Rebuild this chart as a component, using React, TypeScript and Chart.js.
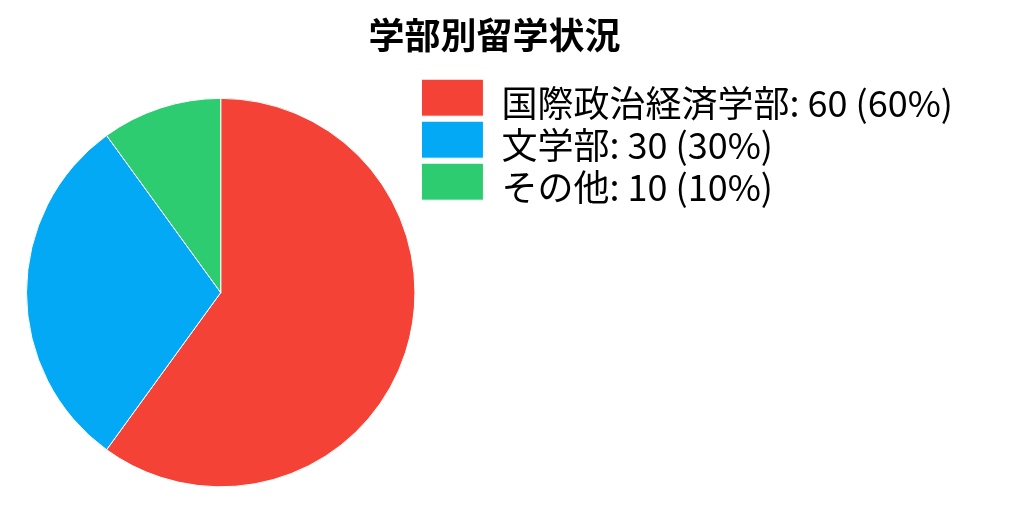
import React, { useEffect, useRef } from "react";
import { Chart, registerables } from "chart.js";

Chart.register(...registerables);

const chartTitle = "学部別留学状況";
const categories = ["国際政治経済学部", "文学部", "その他"];
const values = [60, 30, 10];
const colors = ["#F44336", "#03A9F4", "#2ECC71"];

const FONT = "'Noto Sans CJK JP', 'Noto Sans', sans-serif";

// Chart.js caps a side legend at half the available width; let it keep its natural width.
const naturalLegendWidth = {
  id: "naturalLegendWidth",
  beforeLayout(chart: any) {
    const legend = chart.legend;
    if (legend && !legend.__natural) {
      legend.__natural = true;
      const origFit = legend.fit;
      legend.fit = function (this: any) {
        origFit.call(this);
        if (this.options.display && this.columnSizes && this.columnSizes.length) {
          const pad = this.options.labels.padding;
          this.width = pad + this.columnSizes[0].width + 10;
        }
      };
    }
  },
};

// Legend label text is given as lines of a small line height so the visible
// line sits a little lower than the colour box (as in the reference rendering).
const LABEL_LINE = 6; // px per line
const LABEL_LINES = 6; // total lines per item -> 36px item + 6px padding = 42px rows

export default function App() {
  const ref = useRef<HTMLCanvasElement | null>(null);

  useEffect(() => {
    document.body.style.margin = "0";
    if (!ref.current) return;
    const total = values.reduce((a, b) => a + b, 0);
    const chart = new Chart(ref.current, {
      type: "pie",
      data: {
        labels: categories,
        datasets: [
          {
            data: values,
            backgroundColor: colors,
            borderColor: "#ffffff",
            borderWidth: 1,
          },
        ],
      },
      plugins: [naturalLegendWidth],
      options: {
        animation: false,
        responsive: true,
        maintainAspectRatio: false,
        layout: { padding: { left: 26, right: 61, top: 0, bottom: 0 } },
        plugins: {
          title: {
            display: true,
            text: chartTitle,
            color: "#000",
            font: { family: FONT, size: 36, weight: "bold" },
            padding: { top: 14, bottom: 16 },
          },
          legend: {
            position: "right",
            align: "start",
            fullSize: false,
            labels: {
              color: "#000",
              font: { family: FONT, size: 36, lineHeight: `${LABEL_LINE}px` },
              boxWidth: 62,
              boxHeight: 37,
              padding: 6,
              generateLabels: (c: any) => {
                const ds = c.data.datasets[0];
                return (c.data.labels as string[]).map((lab, i) => {
                  const v = ds.data[i] as number;
                  const pct = Math.round((v / total) * 100);
                  const lines: string[] = new Array(LABEL_LINES).fill("");
                  lines[1] = `${lab}: ${v} (${pct}%)`;
                  return {
                    text: lines,
                    fillStyle: colors[i],
                    strokeStyle: "#ffffff",
                    lineWidth: 1,
                    fontColor: "#000",
                    hidden: !c.getDataVisibility(i),
                    index: i,
                  };
                });
              },
            },
          },
          tooltip: { enabled: false },
        },
      },
    });
    return () => {
      chart.destroy();
    };
  }, []);

  return (
    <div style={{ width: 1024, height: 512, position: "relative" }}>
      <canvas ref={ref} />
    </div>
  );
}
